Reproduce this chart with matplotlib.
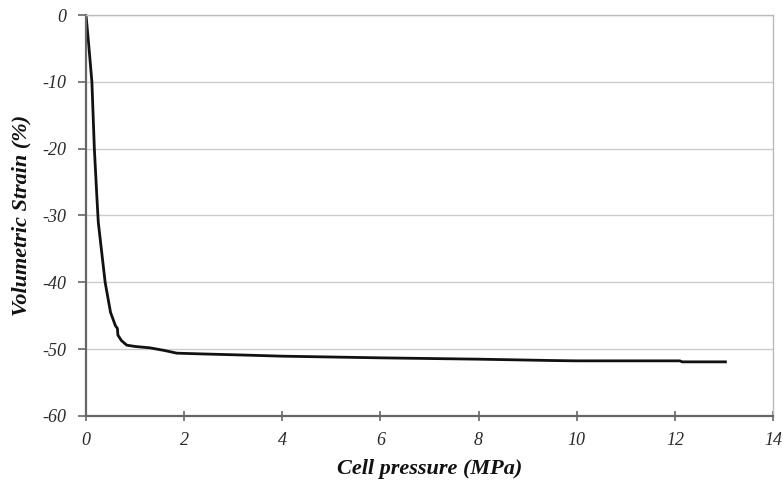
import matplotlib.pyplot as plt

# Cell pressure (MPa) vs volumetric strain (%)
pressure = [0.0, 0.05, 0.12, 0.17, 0.22, 0.25, 0.32, 0.39, 0.5, 0.6, 0.64, 0.65,
            0.72, 0.83, 1.0, 1.3, 1.6, 1.85, 2.3, 3.3, 4.0, 6.0, 8.0, 9.5,
            10.0, 12.1, 12.15, 13.03]
strain = [0.0, -4.0, -10.0, -20.0, -27.0, -31.0, -35.5, -40.0, -44.5, -46.5, -46.9, -47.9,
          -48.7, -49.4, -49.6, -49.8, -50.2, -50.6, -50.7, -50.9, -51.05, -51.3, -51.5, -51.7,
          -51.75, -51.75, -51.9, -51.9]

x_ticks = [0, 2, 4, 6, 8, 10, 12, 14]
y_ticks = [0, -10, -20, -30, -40, -50, -60]

plt.rcParams['font.family'] = ['Liberation Serif', 'DejaVu Serif']

fig = plt.figure(figsize=(7.84, 4.92), dpi=100)
ax = fig.add_axes([0.1097, 0.1545, 0.8763, 0.815])

ax.plot(pressure, strain, color='#111111', linewidth=2.0, solid_joinstyle='round')

ax.set_xlim(0, 14)
ax.set_ylim(-60, 0)
ax.set_xticks(x_ticks)
ax.set_yticks(y_ticks)
ax.set_xticklabels([str(v) for v in x_ticks], fontstyle='italic', fontsize=13, color='#2a2a2a')
ax.set_yticklabels([str(v) for v in y_ticks], fontstyle='italic', fontsize=13, color='#2a2a2a')

# light horizontal gridlines
ax.grid(axis='y', color='#cccccc', linewidth=1.0)
ax.set_axisbelow(True)

for side in ['top', 'right']:
    ax.spines[side].set_color('#bbbbbb')
    ax.spines[side].set_linewidth(1.0)
for side in ['left', 'bottom']:
    ax.spines[side].set_color('#666666')
    ax.spines[side].set_linewidth(1.6)

ax.tick_params(axis='x', direction='inout', length=7, width=1.2, color='#666666', pad=8)
ax.tick_params(axis='y', direction='out', length=6, width=1.2, color='#666666', pad=8)

ax.set_xlabel('Cell pressure (MPa)', fontsize=16, fontweight='bold', fontstyle='italic',
              labelpad=7, color='#111111')
ax.set_ylabel('Volumetric Strain (%)', fontsize=16, fontweight='bold', fontstyle='italic',
              labelpad=8, color='#111111')

fig.savefig('out.png', dpi=100)
